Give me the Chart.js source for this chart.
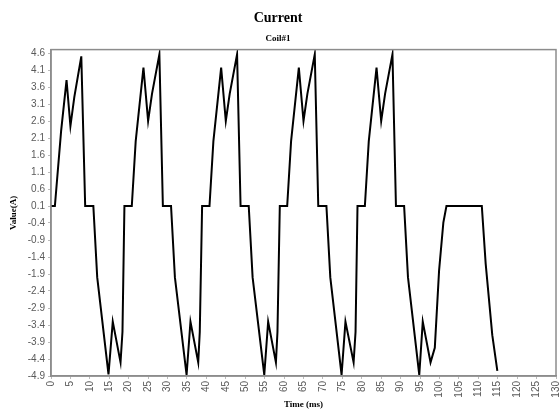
<!DOCTYPE html>
<html>
<head>
<meta charset="utf-8">
<script src="https://cdn.jsdelivr.net/npm/chart.js@4"></script>
<style>
  html, body { margin: 0; padding: 0; background: #fff; }
  #wrap { width: 559px; height: 414px; }
</style>
</head>
<body>
<div id="wrap"><canvas id="currentChart" width="559" height="414"></canvas></div>
<script>
// tempo (ms) e corrente (A)
const timeMs = [
  0, 1.0, 2.6, 4.0, 5.0, 6.0, 7.8, 8.8, 10.9, 11.9, 14.8, 15.9, 17.9, 18.4, 18.9,
  20.8, 21.8, 23.8, 25.0, 26.0, 27.9, 28.8, 30.9, 31.9, 34.9, 35.9, 37.9, 38.3, 38.9,
  40.8, 41.8, 43.8, 45.0, 46.0, 47.9, 48.8, 50.9, 51.9, 54.9, 55.9, 57.9, 58.3, 58.9,
  60.8, 61.8, 63.8, 65.0, 66.0, 67.9, 68.8, 70.9, 71.9, 74.8, 75.8, 77.9, 78.4, 78.9,
  80.8, 81.8, 83.8, 85.0, 86.0, 87.9, 88.8, 90.9, 91.9, 94.8, 95.7, 97.7, 98.8, 99.9,
  101.0, 101.8, 110.9, 111.9, 113.6, 114.9
];
const currentA = [
  0.1, 0.1, 2.3, 3.8, 2.45, 3.3, 4.5, 0.1, 0.1, -2.0, -4.85, -3.3, -4.5, -3.6, 0.1,
  0.1, 2.0, 4.17, 2.6, 3.4, 4.56, 0.1, 0.1, -2.0, -4.87, -3.3, -4.5, -3.6, 0.1,
  0.1, 2.0, 4.17, 2.6, 3.4, 4.56, 0.1, 0.1, -2.0, -4.87, -3.3, -4.5, -3.6, 0.1,
  0.1, 2.0, 4.17, 2.6, 3.4, 4.56, 0.1, 0.1, -2.0, -4.87, -3.3, -4.5, -3.6, 0.1,
  0.1, 2.0, 4.17, 2.6, 3.4, 4.56, 0.1, 0.1, -2.0, -4.87, -3.3, -4.5, -4.07, -1.8,
  -0.39, 0.1, 0.1, -1.6, -3.7, -4.75
];

// marcas do eixo Y
const yTicks = [4.6, 4.1, 3.6, 3.1, 2.6, 2.1, 1.6, 1.1, 0.6, 0.1,
  -0.4, -0.9, -1.4, -1.9, -2.4, -2.9, -3.4, -3.9, -4.4, -4.9];

const points = timeMs.map((t, i) => ({ x: t, y: currentA[i] }));

// moldura cinza em volta da área do gráfico
const frame = {
  id: 'frame',
  afterDraw(chart) {
    const a = chart.chartArea;
    const ctx = chart.ctx;
    ctx.save();
    ctx.strokeStyle = '#8c8c8c';
    ctx.lineWidth = 1.5;
    ctx.strokeRect(a.left, a.top, a.right - a.left, a.bottom - a.top);
    ctx.restore();
  }
};

const serif = "'Liberation Serif', 'Times New Roman', serif";
const sans = "'Liberation Sans', Arial, sans-serif";

const ctx = document.getElementById('currentChart').getContext('2d');
new Chart(ctx, {
  type: 'line',
  data: {
    datasets: [{
      label: 'Coil#1',
      data: points,
      borderColor: '#000',
      borderWidth: 2,
      pointRadius: 0,
      tension: 0,
      fill: false
    }]
  },
  options: {
    responsive: false,
    animation: false,
    layout: { padding: { left: 0, right: 3, top: 0, bottom: 0 } },
    plugins: {
      legend: { display: false },
      tooltip: { enabled: false },
      title: {
        display: true,
        text: 'Current',
        color: '#000',
        font: { family: serif, size: 14, weight: 'bold' },
        padding: { top: 10, bottom: 6 }
      },
      subtitle: {
        display: true,
        text: 'Coil#1',
        color: '#000',
        font: { family: serif, size: 9, weight: 'bold' },
        padding: { top: 0, bottom: 6 }
      }
    },
    scales: {
      x: {
        type: 'linear',
        min: 0,
        max: 130,
        border: { color: '#8c8c8c', width: 1.5 },
        grid: { display: true, drawOnChartArea: false, drawTicks: true, tickLength: 3, color: '#bbb' },
        ticks: {
          stepSize: 5,
          autoSkip: false,
          maxRotation: 90,
          minRotation: 90,
          padding: 2,
          color: '#5a5a5a',
          font: { family: sans, size: 10 }
        },
        title: {
          display: true,
          text: 'Time (ms)',
          color: '#000',
          font: { family: serif, size: 9, weight: 'bold' },
          padding: { top: 0, bottom: 4 }
        },
        afterFit(scale) {
          scale.height = 38;
          scale.paddingRight = 0;
          scale.paddingLeft = 0;
        }
      },
      y: {
        min: -4.9,
        max: 4.7,
        border: { color: '#8c8c8c', width: 1.5 },
        grid: { display: true, drawOnChartArea: false, drawTicks: true, tickLength: 3, color: '#bbb' },
        afterBuildTicks(scale) {
          scale.ticks = yTicks.map(v => ({ value: v }));
        },
        ticks: {
          padding: 3,
          color: '#5a5a5a',
          font: { family: sans, size: 10 },
          callback: v => Number(v).toFixed(1)
        },
        title: {
          display: true,
          text: 'Value(A)',
          color: '#000',
          font: { family: serif, size: 9, weight: 'bold' },
          padding: { top: 8, bottom: 0 }
        },
        afterFit(scale) {
          scale.width = 51;
        }
      }
    }
  },
  plugins: [frame]
});
</script>
</body>
</html>
